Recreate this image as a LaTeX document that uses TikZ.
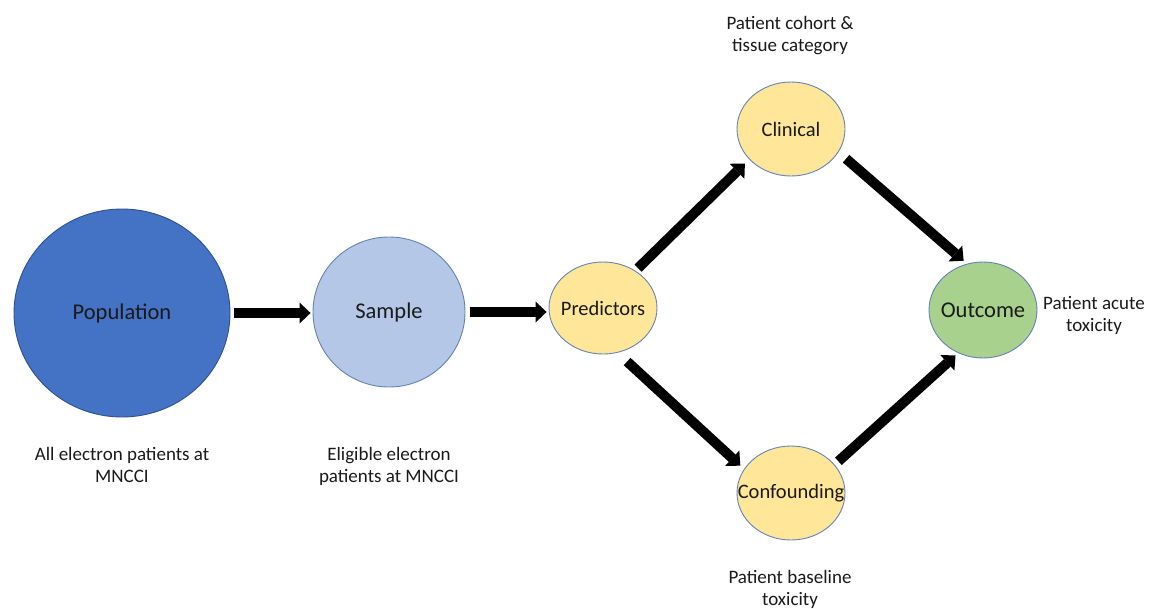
\documentclass[tikz,border=0pt]{standalone}
\usepackage{fontspec}
\setmainfont{Carlito}
\usetikzlibrary{shapes.geometric,arrows.meta}
\definecolor{popblue}{HTML}{4472C4}
\definecolor{popedge}{HTML}{2F528F}
\definecolor{samplefill}{HTML}{B4C7E7}
\definecolor{yellowfill}{HTML}{FFE699}
\definecolor{greenfill}{HTML}{A9D18E}
\definecolor{nodeedge}{HTML}{6283B8}
\definecolor{txt}{HTML}{1A1A1A}
\tikzset{
  blob/.style={ellipse, draw=nodeedge, line width=0.9pt, inner sep=0pt, text=txt},
  bigtext/.style={font=\fontsize{22.5}{27}\selectfont},
  midtext/.style={font=\fontsize{20.5}{25}\selectfont},
  lab/.style={align=center, text=txt, font=\fontsize{19}{22}\selectfont, inner sep=0pt},
  fat/.style={line width=10pt, draw=black, -{Triangle[length=11pt,width=21pt,line width=0pt]}}
}
\newcommand{\ctext}[1]{\makebox[0pt]{\raisebox{-1.5pt}{#1}}}
\begin{document}
\begin{tikzpicture}[x=1pt,y=-1pt]
\useasboundingbox (0,0) rectangle (1172,608);
% nodes
\node[blob, bigtext, fill=popblue, draw=popedge, minimum width=216pt, minimum height=208pt] (pop) at (122,313) {\ctext{Population}};
\node[blob, bigtext, fill=samplefill, minimum width=152pt, minimum height=150pt] (sam) at (389,312) {\ctext{Sample}};
\node[blob, midtext, fill=yellowfill, minimum width=108pt, minimum height=92pt] (pred) at (603,308) {\ctext{Predictors}};
\node[blob, midtext, fill=yellowfill, minimum width=108pt, minimum height=94pt] (clin) at (791,129) {\ctext{Clinical}};
\node[blob, midtext, fill=yellowfill, minimum width=108pt, minimum height=94pt] (conf) at (791,493) {\ctext{Confounding}};
\node[blob, bigtext, fill=greenfill, minimum width=108pt, minimum height=96pt] (out) at (983,310) {\ctext{Outcome}};
% labels
\node[lab] (popl) at (122,465) {All electron patients at\\MNCCI};
\node[lab] (saml) at (389,466) {Eligible electron\\patients at MNCCI};
\node[lab] (clinl) at (790,36) {Patient cohort \&\\tissue category};
\node[lab] (confl) at (790,589) {Patient baseline\\toxicity};
\node[lab] (outl) at (1094,315) {Patient acute\\toxicity};
% arrows
\draw[fat, shorten <=4pt, shorten >=2pt] (pop.east) -- (pop.east -| sam.west);
\draw[fat, shorten <=5pt, shorten >=2pt] (sam.east) -- (sam.east -| pred.west);
\draw[fat, shorten <=3.6pt, shorten >=6pt] (pred.49.6) -- (clin.216.5);
\draw[fat, shorten <=10pt, shorten >=4.5pt] (clin.-26.6) -- (out.109.8);
\draw[fat, shorten <=13pt, shorten >=5pt] (pred.-72.5) -- (conf.153);
\draw[fat, shorten <=5pt, shorten >=3.5pt] (conf.33.4) -- (out.240.5);
\end{tikzpicture}
\end{document}
